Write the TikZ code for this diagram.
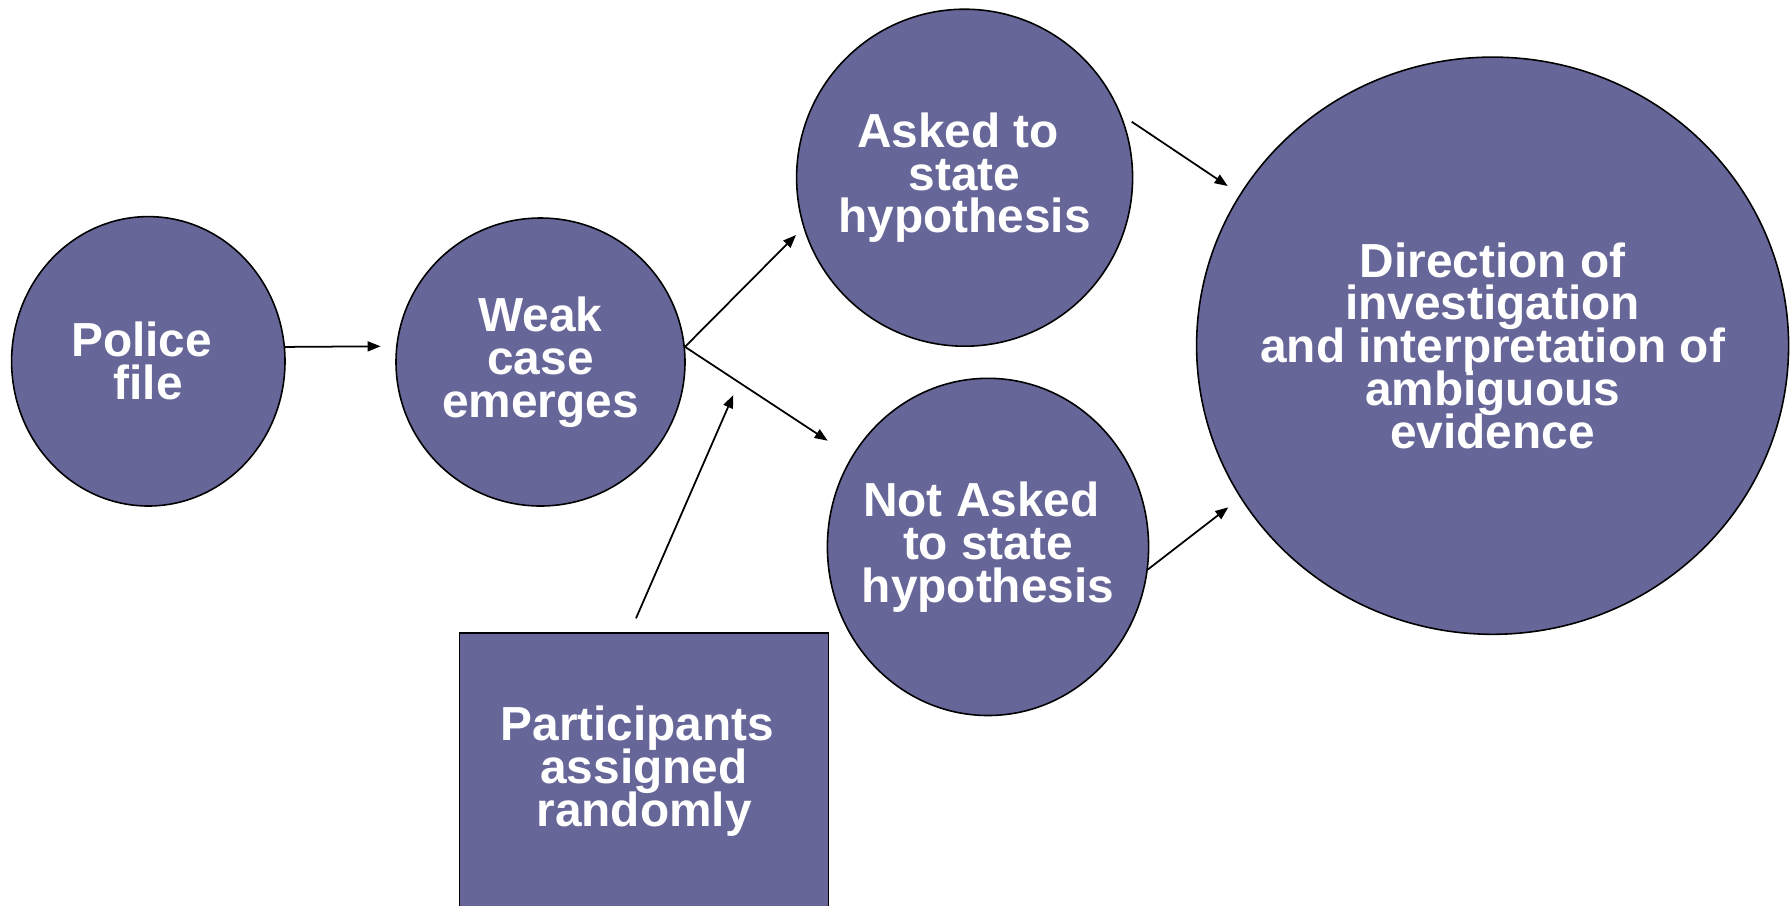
\documentclass[tikz,border=0pt]{standalone}
\usepackage{fontspec}
\setmainfont{Liberation Sans}
\usepackage{xcolor}
\usetikzlibrary{shapes.geometric, arrows.meta, positioning}
\definecolor{case-purple}{RGB}{102,102,153}
\newcommand{\casefont}{\bfseries\fontsize{13.6}{12.2}\selectfont\setlength{\lineskiplimit}{-20pt}}
\newcommand{\tsp}{\hspace*{0.278em}}

\begin{document}
\begin{tikzpicture}[
  every node/.style={font=\casefont, text=white, align=center},
  stage/.style={ellipse, draw=black, line width=0.45pt, fill=case-purple, inner ysep=0pt, inner xsep=-0.1cm},
  assignbox/.style={rectangle, draw=black, line width=0.45pt, fill=case-purple, inner sep=0pt},
  flow/.style={draw, line width=0.5pt, -{Triangle[length=1.3mm, width=1mm]}},
]
  \clip (0,0) rectangle (17.92,9.05);

  \node[stage, minimum width=2.734cm, minimum height=2.894cm] (police) at (1.483,5.437) {Police\tsp\\file};
  \node[stage, minimum width=2.89cm, minimum height=2.88cm] (weak) at (5.405,5.43) {Weak\\case\tsp\\emerges};
  \node[stage, minimum width=3.36cm, minimum height=3.37cm] (asked) at (9.646,7.273) {Asked to\tsp\\state\tsp\\hypothesis};
  \node[stage, inner xsep=-0.14cm, minimum width=3.212cm, minimum height=3.372cm] (notasked) at (9.88,3.581)
    {Not Asked\tsp\\to state\tsp\\hypothesis};
  \node[stage, inner xsep=-0.3cm, minimum width=5.92cm, minimum height=5.772cm] (direction) at (14.926,5.593)
    {Direction of\\investigation\tsp\\and interpretation of\tsp\\ambiguous\tsp\\evidence};
  \node[assignbox, minimum width=3.692cm, minimum height=2.77cm] (participants) at (6.44,1.335)
    {Participants\tsp\\assigned\tsp\\randomly};

  \coordinate (weak-in) at (3.806,5.587);
  \coordinate (asked-in) at (7.96,6.70);
  \coordinate (notasked-in) at (8.277,4.643);
  \coordinate (participants-out) at (6.36,2.867);
  \coordinate (weak-low) at (7.333,5.10);
  \coordinate (asked-out) at (11.317,7.833);
  \coordinate (direction-upper) at (12.277,7.19);
  \coordinate (direction-lower) at (12.283,3.977);

  \draw[flow] (police.6) -- (weak-in);
  \draw[flow] (weak.6) -- (asked-in);
  \draw[flow] (weak.6) -- (notasked-in);
  \draw[flow] (participants-out) -- (weak-low);
  \draw[flow] (asked-out) -- (direction-upper);
  \draw[flow] (notasked.-8.5) -- (direction-lower);
\end{tikzpicture}
\end{document}
